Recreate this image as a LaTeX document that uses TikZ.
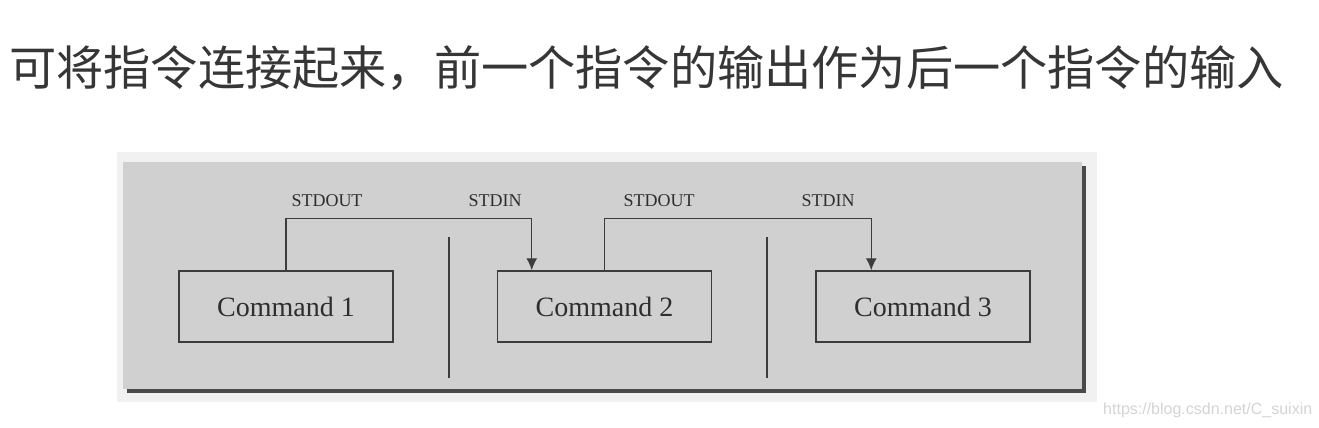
\documentclass[tikz,border=0pt]{standalone}
\usepackage{fontspec}
\setmainfont{Liberation Serif}
\newfontfamily\cjkfont{Noto Sans CJK SC}
\newfontfamily\urlfont{Liberation Sans}
\usetikzlibrary{arrows.meta,calc}
\definecolor{ppInk}{HTML}{2E2E2E}
\definecolor{ppLine}{HTML}{3C3C3C}
\definecolor{ppPanel}{HTML}{D0D0D0}
\definecolor{ppHalo}{HTML}{F1F1F1}
\definecolor{ppShadow}{HTML}{4A4A4A}
\definecolor{ppTitle}{HTML}{363636}
\definecolor{ppMark}{HTML}{D4D4D4}
\newcommand{\PPType}{\fontsize{18}{20}\selectfont}
\tikzset{pp/base/.style={x=1pt,y=-1pt,line cap=butt,line join=miter,
  every node/.style={font=\PPType,inner sep=0pt,text=ppInk}},
  pp/arrow/.style={-{Latex[length=12pt,width=11pt]},draw=ppLine,line width=1.4pt},
  pp/bar/.style={draw=ppLine,line width=1.6pt},
  pp/cmd/.style={draw=ppLine,fill=ppPanel,line width=1.5pt,minimum width=214pt,
    minimum height=71pt,font=\fontsize{28}{30}\selectfont}}

\begin{document}
\begin{tikzpicture}[pp/base]
  \useasboundingbox[fill=white] (0,0) rectangle (1319,428);
  \node[anchor=west,font=\cjkfont\fontsize{47.2}{50}\selectfont,text=ppTitle] (title) at (9,68)
    {可将指令连接起来，前一个指令的输出作为后一个指令的输入};
  % frame with shadow
  \fill[ppHalo] (117,152) rectangle (1097,402);
  \fill[ppShadow] (127,166) rectangle (1086,393);
  \fill[ppPanel] (123,162) rectangle (1082,389);
  \node[pp/cmd] (c1) at (286,306.5) {Command 1};
  \node[pp/cmd] (c2) at (604.5,306.5) {Command 2};
  \node[pp/cmd] (c3) at (923,306.5) {Command 3};
  \draw[pp/bar] (449,237)--(449,378);
  \draw[pp/bar] (767,237)--(767,378);
  \coordinate (in2) at ($(c2.north west)+(35,0)$);
  \coordinate (in3) at ($(c3.north west)+(56,0)$);
  \draw[pp/arrow] (c1.north) -- ++(0,-52) -| (in2);
  \draw[pp/arrow] (c2.north) -- ++(0,-52) -| (in3);
  \node (out1) at (327,201) {STDOUT};
  \node (inl2) at (495,201) {STDIN};
  \node (out2) at (659,201) {STDOUT};
  \node (inl3) at (828,201) {STDIN};
  \node[anchor=west,font=\urlfont\fontsize{16}{18}\selectfont,text=ppMark] (mark) at (1103,410)
    {https://blog.csdn.net/C\_suixin};
\end{tikzpicture}
\end{document}
